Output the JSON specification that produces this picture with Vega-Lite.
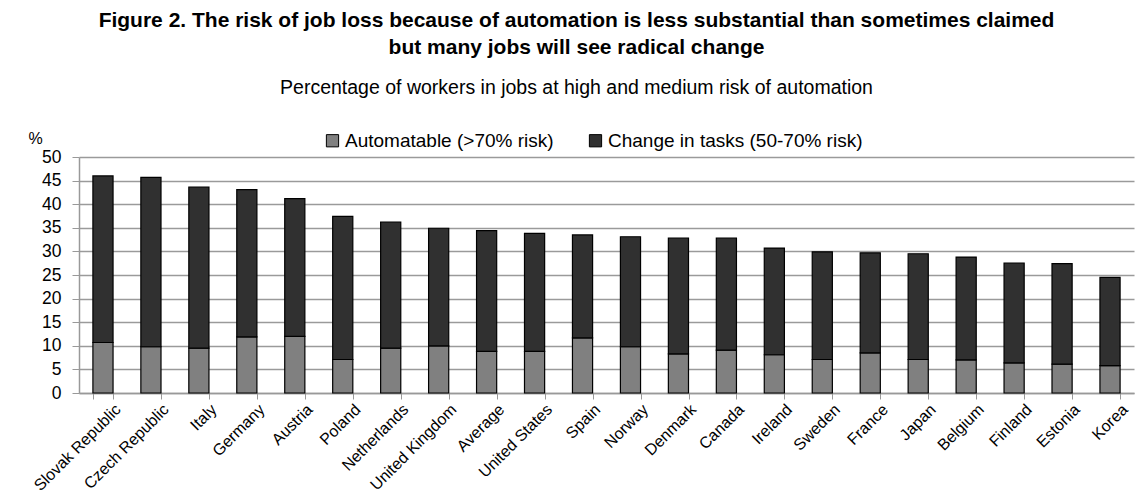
{
  "$schema": "https://vega.github.io/schema/vega-lite/v6.json",
  "autosize": {"type": "none"},
  "width": 1055,
  "height": 236,
  "padding": {"left": 79, "top": 157, "right": 6, "bottom": 106},
  "background": "white",
  "title": {
    "text": ["Figure 2. The risk of job loss because of automation is less substantial than sometimes claimed", "but many jobs will see radical change"],
    "subtitle": "Percentage of workers in jobs at high and medium risk of automation",
    "anchor": "middle",
    "dx": -30,
    "font": "Liberation Sans",
    "fontSize": 21,
    "fontWeight": "bold",
    "lineHeight": 27,
    "color": "black",
    "subtitleFont": "Liberation Sans",
    "subtitleFontSize": 19.5,
    "subtitleColor": "black",
    "subtitlePadding": 21,
    "offset": 33
  },
  "data": {
    "values": [
      {"country": "Slovak Republic", "series": "Automatable (>70% risk)", "value": 10.7},
      {"country": "Slovak Republic", "series": "Change in tasks (50-70% risk)", "value": 35.3},
      {"country": "Czech Republic", "series": "Automatable (>70% risk)", "value": 9.8},
      {"country": "Czech Republic", "series": "Change in tasks (50-70% risk)", "value": 35.9},
      {"country": "Italy", "series": "Automatable (>70% risk)", "value": 9.5},
      {"country": "Italy", "series": "Change in tasks (50-70% risk)", "value": 34.1},
      {"country": "Germany", "series": "Automatable (>70% risk)", "value": 11.9},
      {"country": "Germany", "series": "Change in tasks (50-70% risk)", "value": 31.2},
      {"country": "Austria", "series": "Automatable (>70% risk)", "value": 12.0},
      {"country": "Austria", "series": "Change in tasks (50-70% risk)", "value": 29.2},
      {"country": "Poland", "series": "Automatable (>70% risk)", "value": 7.1},
      {"country": "Poland", "series": "Change in tasks (50-70% risk)", "value": 30.3},
      {"country": "Netherlands", "series": "Automatable (>70% risk)", "value": 9.5},
      {"country": "Netherlands", "series": "Change in tasks (50-70% risk)", "value": 26.7},
      {"country": "United Kingdom", "series": "Automatable (>70% risk)", "value": 10.0},
      {"country": "United Kingdom", "series": "Change in tasks (50-70% risk)", "value": 24.9},
      {"country": "Average", "series": "Automatable (>70% risk)", "value": 8.8},
      {"country": "Average", "series": "Change in tasks (50-70% risk)", "value": 25.6},
      {"country": "United States", "series": "Automatable (>70% risk)", "value": 8.8},
      {"country": "United States", "series": "Change in tasks (50-70% risk)", "value": 25.0},
      {"country": "Spain", "series": "Automatable (>70% risk)", "value": 11.7},
      {"country": "Spain", "series": "Change in tasks (50-70% risk)", "value": 21.8},
      {"country": "Norway", "series": "Automatable (>70% risk)", "value": 9.8},
      {"country": "Norway", "series": "Change in tasks (50-70% risk)", "value": 23.3},
      {"country": "Denmark", "series": "Automatable (>70% risk)", "value": 8.3},
      {"country": "Denmark", "series": "Change in tasks (50-70% risk)", "value": 24.5},
      {"country": "Canada", "series": "Automatable (>70% risk)", "value": 9.1},
      {"country": "Canada", "series": "Change in tasks (50-70% risk)", "value": 23.7},
      {"country": "Ireland", "series": "Automatable (>70% risk)", "value": 8.1},
      {"country": "Ireland", "series": "Change in tasks (50-70% risk)", "value": 22.6},
      {"country": "Sweden", "series": "Automatable (>70% risk)", "value": 7.1},
      {"country": "Sweden", "series": "Change in tasks (50-70% risk)", "value": 22.8},
      {"country": "France", "series": "Automatable (>70% risk)", "value": 8.5},
      {"country": "France", "series": "Change in tasks (50-70% risk)", "value": 21.2},
      {"country": "Japan", "series": "Automatable (>70% risk)", "value": 7.1},
      {"country": "Japan", "series": "Change in tasks (50-70% risk)", "value": 22.4},
      {"country": "Belgium", "series": "Automatable (>70% risk)", "value": 7.0},
      {"country": "Belgium", "series": "Change in tasks (50-70% risk)", "value": 21.8},
      {"country": "Finland", "series": "Automatable (>70% risk)", "value": 6.4},
      {"country": "Finland", "series": "Change in tasks (50-70% risk)", "value": 21.1},
      {"country": "Estonia", "series": "Automatable (>70% risk)", "value": 6.1},
      {"country": "Estonia", "series": "Change in tasks (50-70% risk)", "value": 21.3},
      {"country": "Korea", "series": "Automatable (>70% risk)", "value": 5.8},
      {"country": "Korea", "series": "Change in tasks (50-70% risk)", "value": 18.7}
    ]
  },
  "mark": {"type": "bar", "stroke": "black", "strokeWidth": 1.2, "opacity": 1},
  "encoding": {
    "x": {
      "field": "country",
      "type": "nominal",
      "sort": null,
      "scale": {"paddingInner": 0.58, "paddingOuter": 0.29},
      "axis": {
        "title": null,
        "labelAngle": -45,
        "labelAlign": "right",
        "labelBaseline": "top",
        "labelFont": "Liberation Sans",
        "labelFontSize": 16,
        "labelColor": "black",
        "labelPadding": 2,
        "labelOffset": 9,
        "tickBand": "extent",
        "tickColor": "#999999",
        "tickSize": 6,
        "domainColor": "#999999",
        "domainWidth": 1.5,
        "grid": false
      }
    },
    "y": {
      "field": "value",
      "type": "quantitative",
      "stack": "zero",
      "scale": {"domain": [0, 50], "nice": false},
      "axis": {
        "title": "%",
        "titleAngle": 0,
        "titleAlign": "left",
        "titleBaseline": "alphabetic",
        "titleX": -51,
        "titleY": -14,
        "titleFont": "Liberation Sans",
        "titleFontSize": 16,
        "titleFontWeight": "normal",
        "titleColor": "black",
        "values": [0, 5, 10, 15, 20, 25, 30, 35, 40, 45, 50],
        "labelFont": "Liberation Sans",
        "labelFontSize": 17.5,
        "labelColor": "black",
        "labelPadding": 11,
        "tickColor": "#999999",
        "tickSize": 7,
        "domainColor": "#999999",
        "domainWidth": 1.5,
        "grid": true,
        "gridColor": "#9a9a9a",
        "gridWidth": 1.3
      }
    },
    "color": {
      "field": "series",
      "type": "nominal",
      "scale": {
        "domain": ["Automatable (>70% risk)", "Change in tasks (50-70% risk)"],
        "range": ["#808080", "#303030"]
      },
      "legend": {
        "title": null,
        "orient": "none",
        "direction": "horizontal",
        "legendX": 244,
        "legendY": -26,
        "symbolType": "square",
        "symbolSize": 150,
        "symbolStrokeColor": "black",
        "symbolStrokeWidth": 1,
        "symbolOpacity": 1,
        "labelFont": "Liberation Sans",
        "labelFontSize": 19,
        "labelColor": "black",
        "labelOffset": 3,
        "columnPadding": 32,
        "labelLimit": 400
      }
    },
    "order": {"field": "series", "type": "ordinal", "sort": "ascending"}
  },
  "config": {
    "view": {"stroke": null}
  }
}
